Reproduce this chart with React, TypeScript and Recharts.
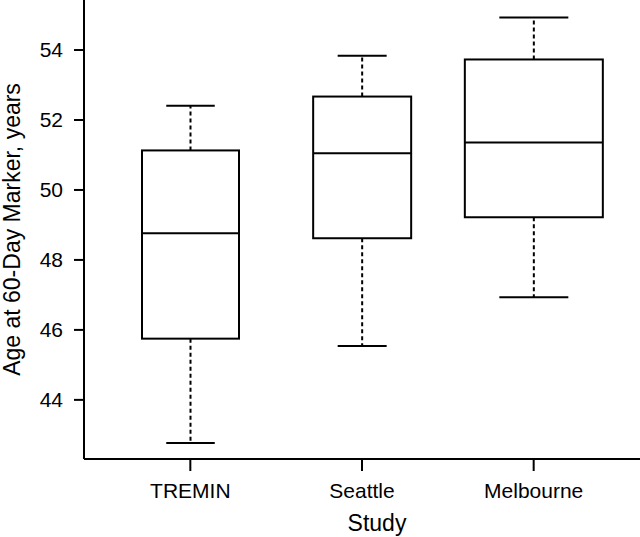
import React from "react";
import { BarChart, Bar, XAxis, YAxis } from "recharts";

// box plot stats (years)
const studies = ["TREMIN", "Seattle", "Melbourne"];
const lowerWhisker = [42.77, 45.54, 46.93];
const lowerQuartile = [45.75, 48.62, 49.22];
const medians = [48.76, 51.05, 51.36];
const upperQuartile = [51.13, 52.67, 53.73];
const upperWhisker = [52.41, 53.84, 54.93];
const yTicks = [44, 46, 48, 50, 52, 54];

const data = studies.map((study, i) => ({
  study,
  min: lowerWhisker[i],
  q1: lowerQuartile[i],
  median: medians[i],
  q3: upperQuartile[i],
  max: upperWhisker[i],
}));

// varwidth boxes: pixel widths per study
const BOX_WIDTH: Record<string, number> = { TREMIN: 97, Seattle: 98, Melbourne: 138 };
const FONT = '"Liberation Sans", Arial, sans-serif';

const BoxShape = (props: any) => {
  const { x, y, width, height, payload } = props;
  const cx = x + width / 2;
  // the bar spans [min, max]; map other stats with the same linear scale
  const toY = (v: number) => y + ((payload.max - v) / (payload.max - payload.min)) * height;
  const w = BOX_WIDTH[payload.study] ?? 100;
  const cap = w / 2;
  const yq1 = toY(payload.q1);
  const yq3 = toY(payload.q3);
  const ymed = toY(payload.median);
  const ymin = toY(payload.min);
  const ymax = toY(payload.max);
  return (
    <g stroke="#000" strokeWidth={2} fill="none">
      <line x1={cx} x2={cx} y1={yq3} y2={ymax} strokeDasharray="4 3" />
      <line x1={cx} x2={cx} y1={yq1} y2={ymin} strokeDasharray="4 3" />
      <line x1={cx - cap / 2} x2={cx + cap / 2} y1={ymax} y2={ymax} />
      <line x1={cx - cap / 2} x2={cx + cap / 2} y1={ymin} y2={ymin} />
      <rect x={cx - w / 2} y={yq3} width={w} height={yq1 - yq3} fill="#fff" />
      <line x1={cx - w / 2} x2={cx + w / 2} y1={ymed} y2={ymed} />
    </g>
  );
};

export default function App() {
  return (
    <div style={{ position: "absolute", left: 0, top: 0, width: 640, height: 537, background: "#fff" }}>
      <BarChart
        width={640}
        height={537}
        data={data}
        margin={{ top: 0, right: 0, bottom: 0, left: 0 }}
        style={{ fontFamily: FONT }}
      >
        <XAxis
          dataKey="study"
          height={78}
          interval={0}
          padding={{ left: 20.5, right: 20.5 }}
          tickSize={12}
          tickMargin={12}
          axisLine={{ stroke: "#000", strokeWidth: 2 }}
          tickLine={{ stroke: "#000", strokeWidth: 2 }}
          tick={{ fill: "#000", fontSize: 21, fontFamily: FONT }}
          label={{
            value: "Study",
            content: ({ viewBox }: any) => (
              <text
                x={viewBox.x + viewBox.width / 2 + 15}
                y={viewBox.y + viewBox.height - 6}
                textAnchor="middle"
                fill="#000"
                fontSize={23}
                fontFamily={FONT}
              >
                Study
              </text>
            ),
          }}
        />
        <YAxis
          type="number"
          domain={[42.31, 55.43]}
          ticks={yTicks}
          allowDataOverflow
          width={84}
          tickSize={10}
          tickMargin={11}
          axisLine={{ stroke: "#000", strokeWidth: 2 }}
          tickLine={{ stroke: "#000", strokeWidth: 2 }}
          tick={{ fill: "#000", fontSize: 21, fontFamily: FONT }}
          label={{
            value: "Age at 60-Day Marker, years",
            content: ({ viewBox }: any) => {
              const cy = viewBox.y + viewBox.height / 2;
              return (
                <text
                  x={20}
                  y={cy}
                  transform={`rotate(-90, 20, ${cy})`}
                  textAnchor="middle"
                  fill="#000"
                  fontSize={23}
                  fontFamily={FONT}
                >
                  Age at 60-Day Marker, years
                </text>
              );
            },
          }}
        />
        <Bar
          dataKey={(d: any) => [d.min, d.max]}
          barSize={40}
          shape={BoxShape}
          isAnimationActive={false}
        />
      </BarChart>
    </div>
  );
}
